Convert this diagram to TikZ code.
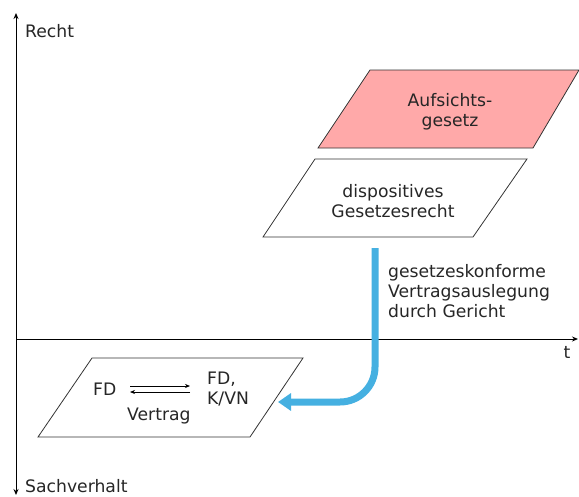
\documentclass[tikz,border=0pt]{standalone}
\usepackage{fontspec}
\setmainfont{DejaVu Sans}
\usetikzlibrary{arrows.meta}
\definecolor{pinkfill}{HTML}{FFA9A9}
\definecolor{bluearrow}{HTML}{45B0E1}
\begin{document}
\begin{tikzpicture}[x=1pt,y=-1pt,
  txt/.style={font=\fontsize{17.2}{20}\selectfont, text=black!85, inner sep=0pt, align=center},
  axis/.style={line width=1pt, -{Stealth[length=6pt,width=5pt]}},
  para/.style={draw=black!80, line width=0.8pt},
  small/.style={line width=0.7pt, -{Stealth[length=5pt,width=4pt]}}]
\useasboundingbox (0,0) rectangle (579,496);
% axes
\coordinate (origin) at (16,339);
\coordinate (ytop) at (16,13);
\coordinate (ybot) at (16,495);
\coordinate (xend) at (578,339);
\draw[axis] (origin) -- (ytop);
\draw[axis] (origin) -- (ybot);
\draw[axis] (origin) -- (xend);
% parallelograms
\draw[para, fill=pinkfill] (370,70) -- (579,70) -- (533,148) -- (318,148) -- cycle;
\draw[para, fill=white] (315,159) -- (527,159) -- (473,237) -- (263,237) -- cycle;
\draw[para, fill=white] (92,358) -- (303,358) -- (250,437) -- (38,437) -- cycle;
% texts
\node[txt, anchor=west] (recht) at (25,31) {Recht};
\node[txt, anchor=west] (sach) at (25,486) {Sachverhalt};
\node[txt] (t) at (567,352) {t};
\node[txt] (aufs) at (450,112) {Aufsichts-\\gesetz};
\node[txt] (disp) at (393,201) {dispositives\\Gesetzesrecht};
\node[txt, align=left, anchor=west] (ausl) at (388,291) {gesetzeskonforme\\Vertragsauslegung\\durch Gericht};
\node[txt, anchor=west] (fd1) at (93,389) {FD};
\node[txt, align=left, anchor=west] (fd2) at (207,389) {FD,\\K/VN};
\node[txt, anchor=west] (vertrag) at (127,416) {Vertrag};
% small arrows
\coordinate (a1) at (130,386);
\coordinate (a2) at (190,386);
\coordinate (b1) at (190,392);
\coordinate (b2) at (130,392);
\draw[small] (a1) -- (a2);
\draw[small] (b1) -- (b2);
% blue arrow
\coordinate (bs) at (375,248);
\coordinate (bc) at (375,402);
\coordinate (be) at (278,402);
\draw[bluearrow, line width=7pt, rounded corners=35pt, -{Triangle[length=13pt,width=17pt]}] (bs) -- (bc) -- (be);
\end{tikzpicture}
\end{document}
